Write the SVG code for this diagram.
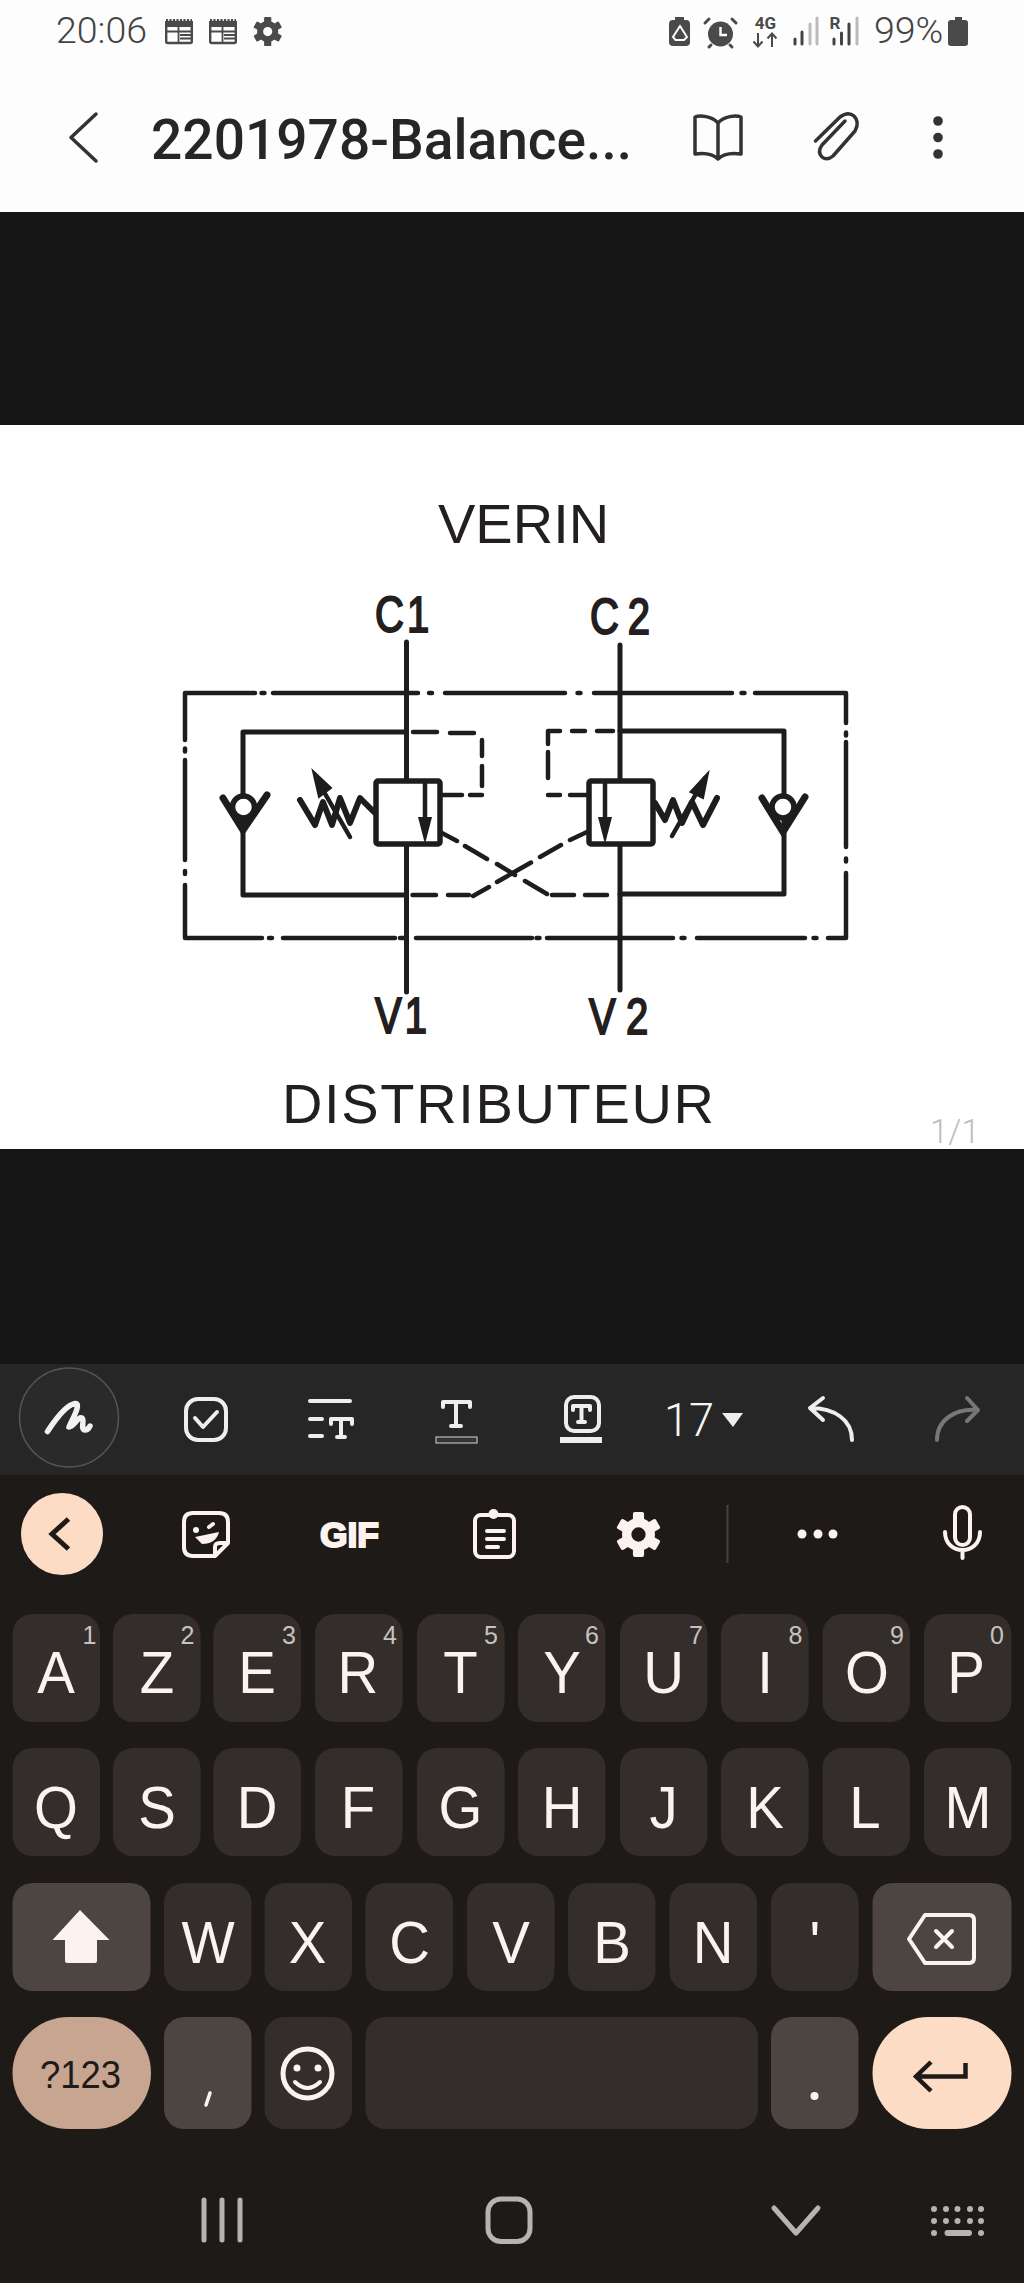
<svg xmlns="http://www.w3.org/2000/svg" width="1024" height="2283" viewBox="0 0 1024 2283">
<style>
.st{font-family:Roboto,"Liberation Sans",sans-serif;font-weight:300;font-size:37.5px;fill:#444}
.sb{font-family:Roboto,"Liberation Sans",sans-serif;font-weight:700;font-size:17px;fill:#4a4a4a}
.ic{fill:none;stroke:#333;stroke-width:3.5;stroke-linecap:round;stroke-linejoin:round}
.dark{fill:#4a4a4a}
.lb{font-family:"Liberation Sans",Arial,sans-serif;font-size:56px;fill:#231f20}
.hy{font-family:"Liberation Sans",Arial,sans-serif;font-size:50px;fill:#231f20;stroke:#231f20;stroke-width:2}
.w{fill:none;stroke:#1f1c1d;stroke-width:5;stroke-linecap:round;stroke-linejoin:round}
.sp{fill:none;stroke:#1f1c1d;stroke-width:6;stroke-linecap:round;stroke-linejoin:round}
.b{fill:none;stroke:#1f1c1d;stroke-width:4.500;stroke-linecap:round;stroke-linejoin:round}
.d{fill:none;stroke:#1f1c1d;stroke-width:4.500;stroke-linecap:round;stroke-linejoin:round}
.tb{fill:none;stroke:#eee;stroke-width:4;stroke-linecap:round;stroke-linejoin:round}
.kc{fill:none;stroke:#fdf3ee;stroke-width:4;stroke-linecap:round;stroke-linejoin:round}
.k{fill:#332e2b}
.k2{fill:#4c4542}
.l{font-family:"Liberation Sans",Arial,sans-serif;font-size:60px;fill:#fdf3ee;text-anchor:middle;transform-box:fill-box;transform-origin:center;transform:scaleX(.94)}
.n{font-family:"Liberation Sans",Arial,sans-serif;font-size:25px;fill:#c8c2be;text-anchor:middle}
.nv{fill:none;stroke:#b4b4b4;stroke-width:5;stroke-linecap:round;stroke-linejoin:round}
.kd{fill:#b4b4b4}
</style>
<defs>
<g id="gear">
<circle r="7.6" fill="none" stroke="currentColor" stroke-width="6"/>
<g fill="currentColor"><rect x="-3.6" y="-14.5" width="7.2" height="8" rx="1.2"/><rect x="-3.6" y="-14.5" width="7.2" height="8" rx="1.2" transform="rotate(60)"/><rect x="-3.6" y="-14.5" width="7.2" height="8" rx="1.2" transform="rotate(120)"/><rect x="-3.6" y="-14.5" width="7.2" height="8" rx="1.2" transform="rotate(180)"/><rect x="-3.6" y="-14.5" width="7.2" height="8" rx="1.2" transform="rotate(240)"/><rect x="-3.6" y="-14.5" width="7.2" height="8" rx="1.2" transform="rotate(300)"/></g>
</g>
<g id="cal">
<rect x="1.2" y="3" width="25.6" height="21" rx="1.5" fill="none" stroke="#4a4a4a" stroke-width="2.4"/>
<rect x="0" y="2" width="28" height="6" fill="#4a4a4a"/>
<path d="M1 1.5H27" stroke="#4a4a4a" stroke-width="3" stroke-dasharray="2 1.5"/>
<path d="M13.5 8V24M1 12.5H27M15 16H27M15 19.5H27" stroke="#4a4a4a" stroke-width="1.8" fill="none"/>
</g>
</defs>

<rect width="1024" height="2283" fill="#1e1a17"/>
<rect id="appbar" width="1024" height="212" fill="#fdfdfd"/>
<rect id="viewer-top" y="212" width="1024" height="213" fill="#161616"/>
<rect id="page" y="425" width="1024" height="724" fill="#fff"/>
<rect id="viewer-bottom" y="1149" width="1024" height="215" fill="#161616"/>
<rect id="toolbar" y="1364" width="1024" height="111" fill="#262626"/>

<g id="status-bar">
<text class="st" x="56" y="43">20:06</text>
<use href="#cal" x="165" y="19"/>
<use href="#cal" x="209" y="19"/>
<use href="#gear" transform="translate(267.7 31.6)" style="color:#4a4a4a"/>
<g id="battery-saver"><rect x="669" y="20" width="21" height="26" rx="4" class="dark"/><rect x="675" y="17" width="9" height="4" class="dark"/><path d="M680 26L687 37L684 40H675.500L673 37Z" fill="none" stroke="#fff" stroke-width="2"/></g>
<g id="alarm"><circle cx="720.500" cy="34" r="12.500" class="dark"/><path d="M709 19L705 23M732 19L736 23M711 45L709 47M730 45L732 47" stroke="#4a4a4a" stroke-width="3" stroke-linecap="round"/><path d="M720.500 27V35H727" fill="none" stroke="#fff" stroke-width="2.400"/></g>
<g id="net"><text class="sb" x="765.500" y="29" text-anchor="middle">4G</text><path d="M758 33V46M753.500 41.500L758 46.500L762.500 41.500M772 47V34M767.500 38.500L772 33.500L776.500 38.500" fill="none" stroke="#4a4a4a" stroke-width="2"/></g>
<g id="signal-1" stroke-width="3" stroke-linecap="round"><path d="M795 39V44M802 32V44" stroke="#444"/><path d="M810 24V44M817 18V44" stroke="#bbb"/></g>
<g id="signal-2" stroke-width="3" stroke-linecap="round"><text class="sb" x="835" y="29" text-anchor="middle">R</text><path d="M834 39V44M841.500 33V44M849 24V44" stroke="#444"/><path d="M857 18V44" stroke="#bbb"/></g>
<text class="st" x="874" y="43">99%</text>
<g id="battery"><rect x="948" y="20" width="20" height="26" rx="3" class="dark"/><rect x="955" y="17" width="7" height="4" class="dark"/></g>
</g>

<g id="title-bar">
<path class="ic" d="M96 114L71 137.500L96 161"/>
<text x="151" y="159" font-family="Roboto,'Liberation Sans',sans-serif" font-size="56" font-weight="500" fill="#262626" textLength="481" lengthAdjust="spacingAndGlyphs">2201978-Balance...</text>
<path class="ic" d="M718 123C712 116 700 115 695 117V154C702 153 712 153 718 159C724 153 734 153 741 154V117C736 115 724 116 718 123V158"/>
<path class="ic" d="M815.500 141L840 117Q848 111 854 116Q860 122 855 131L833 156Q827 161 822 157Q817 152 822 145L845 121"/>
<circle cx="938" cy="121" r="4.800" fill="#333"/><circle cx="938" cy="137.500" r="4.800" fill="#333"/><circle cx="938" cy="154" r="4.800" fill="#333"/>
</g>

<g id="connectors">
<path class="w" d="M406.500 642V992"/>
<path class="w" d="M620 645V990"/>
<path class="w" d="M406 732H243V830M243 830V895H406"/>
<path class="w" d="M620 731H784V830M784 830V894H620"/>
<g id="box-top"><path class="b" d="M255 693H185V740M273 693H418M445 693H565M594 693H732M755 693H846V723"/><path class="b" d="M261.500 693h3M429 693h3M577.500 693h3M741.500 693h3"/></g>
<g id="box-side"><path class="b" d="M185 760V860M185 885V938H262M846 742V847M846 873V938H828"/><path class="b" d="M185 748.500v3M185 871v3M846 732.500v3M846 858.500v3"/></g>
<g id="box-bottom"><path class="b" d="M283 938H395M400 938H405M416 938H532M547 938H673M697 938H805"/><path class="b" d="M269 938h3M536.500 938h3M681.500 938h3M813.500 938h3"/></g>
<path class="d" d="M413 732H437M450 733H474M482 740V756M482 766V786M482 795H470M462 795H442"/>
<path class="d" d="M613 731H597M585 731H572M560 731H548V744M548 752V778M548 795H560M570 795H588"/>
<path class="d" d="M412.500 895H436M448 895H469M473 896L489 887M497 882L531 862.500M540 857L561 845M570 840L587 832"/>
<path class="d" d="M440 832L457 841M465 846L487 859M497 864L515 875M525 881L547 894M552 895H574M585 895H607"/>
</g>

<g id="valve-1">
<rect x="376" y="781" width="64" height="63" rx="2" fill="#fff" stroke="#1f1c1d" stroke-width="5.500"/>
<path class="b" d="M425 781V830"/>
<path d="M425 844L418 817H432Z" fill="#1f1c1d"/>
<path class="sp" d="M300 800L315 825L323 802L332 825L340 798L350 823L360 798L375 813"/>
<path class="b" d="M350 837L316 778" stroke-width="3"/>
<path d="M313 771L331 788L319 797Z" fill="#1f1c1d" stroke="#1f1c1d" stroke-width="2"/>
</g>
<g id="valve-2">
<rect x="589" y="781" width="64" height="63" rx="2" fill="#fff" stroke="#1f1c1d" stroke-width="5.500"/>
<path class="b" d="M605 781V830"/>
<path d="M605 844L598 817H612Z" fill="#1f1c1d"/>
<path class="sp" d="M655 803L665 820L673 800L682 823L692 802L703 825L717 798"/>
<path class="b" d="M672 836L705 778" stroke-width="3"/>
<path d="M708 773L690.500 792L703 798Z" fill="#1f1c1d" stroke="#1f1c1d" stroke-width="2"/>
</g>
<g id="check-1">
<path d="M223 798L243 830L267 795" fill="none" stroke="#1f1c1d" stroke-width="7" stroke-linecap="round" stroke-linejoin="miter"/>
<circle cx="243.500" cy="807" r="11" fill="#fff" stroke="#1f1c1d" stroke-width="5.500"/>
</g>
<g id="check-2">
<path d="M762 798L783 832L805 797" fill="none" stroke="#1f1c1d" stroke-width="7" stroke-linecap="round" stroke-linejoin="miter"/>
<circle cx="783" cy="807" r="11" fill="#fff" stroke="#1f1c1d" stroke-width="5.500"/>
</g>
<g id="labels">
<text class="lb" x="438" y="543">VERIN</text>
<text class="hy" transform="translate(375 632) scale(.8 1)" letter-spacing="4">C1</text>
<text class="hy" transform="translate(590 634) scale(.8 1)" letter-spacing="11">C2</text>
<text class="hy" transform="translate(375 1033) scale(.8 1)" letter-spacing="4">V1</text>
<text class="hy" transform="translate(589 1034) scale(.8 1)" letter-spacing="13">V2</text>
<text class="lb" x="282" y="1123" letter-spacing="1.650">DISTRIBUTEUR</text>
<text x="930" y="1143" font-family="Roboto,'Liberation Sans',sans-serif" font-weight="300" font-size="33" fill="#bdbdbd">1/1</text>
</g>

<g id="format-toolbar">
<circle cx="69" cy="1417.500" r="49.500" fill="#2a2a2a" stroke="#555" stroke-width="1.500"/>
<path d="M47.500 1431.500C55 1420 66 1405 75 1403.500C82 1403 72 1420 69 1427C74 1427 78 1416 82 1418C85 1420 80 1430 85 1430C87 1430 89 1428 90 1426" fill="none" stroke="#f2f2f2" stroke-width="5.500" stroke-linecap="round" stroke-linejoin="round"/>
<rect class="tb" x="186" y="1399" width="40" height="41" rx="12"/>
<path class="tb" d="M195 1418L203 1427L217 1412" stroke-width="3.500"/>
<path class="tb" d="M310 1401H350M310 1419H322M310 1436H322M331 1424V1419H352V1424M341 1419V1437M337 1437H345"/>
<path class="tb" d="M443 1407V1402H470V1407M456 1402V1426M451 1426H461"/>
<rect x="436" y="1437" width="41" height="6" fill="#333" stroke="#bbb" stroke-width="1.200"/>
<rect class="tb" x="566" y="1397" width="33" height="34" rx="8" stroke-width="3.500"/>
<path class="tb" d="M573 1410V1406H590V1410M581.500 1406V1422M578 1422H585" stroke-width="3"/>
<rect x="560" y="1437" width="42" height="6" fill="#eee"/>
<text x="664" y="1436" font-family="Roboto,'Liberation Sans',sans-serif" font-weight="300" font-size="46" fill="#f6f6f6" textLength="50" lengthAdjust="spacingAndGlyphs">17</text>
<path d="M722 1413H743L733 1427Z" fill="#eee"/>
<path class="tb" d="M823 1398L810 1408L823 1420M810 1408C835 1408 852 1420 852 1440"/>
<path class="tb" d="M967 1398L978 1410L967 1421M978 1410C955 1408 937 1420 937 1440" style="stroke:#777"/>
</g>

<g id="suggestion-bar">
<circle cx="62" cy="1534" r="41" fill="#fddcc6"/>
<path d="M68.500 1519L52 1534L68.500 1549" fill="none" stroke="#1e1a17" stroke-width="5"/>
<g id="sticker"><path class="kc" d="M193 1513H219Q228 1513 228 1522V1543L215 1556H193Q184 1556 184 1547V1522Q184 1513 193 1513ZM215 1556V1547Q215 1543 220 1543H228"/><circle cx="196" cy="1530" r="3" fill="#fdf3ee"/><path class="kc" d="M209 1527L213 1524" stroke-width="3"/><path d="M195 1537L219 1532Q216 1544 202 1544Z" fill="#fdf3ee"/></g>
<text x="320" y="1547" font-family="'Liberation Sans',Arial,sans-serif" font-weight="700" font-size="35" fill="#fdf3ee" stroke="#fdf3ee" stroke-width="2" textLength="59" lengthAdjust="spacingAndGlyphs">GIF</text>
<g id="clipboard"><rect class="kc" x="475" y="1515" width="39" height="42" rx="6" stroke-width="3.500"/><circle cx="493.500" cy="1514" r="5" fill="#fdf3ee"/><path class="kc" d="M487 1531H504M487 1539H504M487 1547H498" stroke-width="3.500" stroke-linecap="butt"/></g>
<use href="#gear" transform="translate(638.500 1534.500) scale(1.550)" style="color:#fdf3ee"/>
<path d="M727.500 1505V1563" stroke="#48423f" stroke-width="2"/>
<circle cx="802" cy="1534" r="4.500" fill="#fdf3ee"/><circle cx="818" cy="1534" r="4.500" fill="#fdf3ee"/><circle cx="833" cy="1534" r="4.500" fill="#fdf3ee"/>
<g id="mic"><rect class="kc" x="955" y="1507" width="15" height="38" rx="7.500"/><path class="kc" d="M945 1532C945 1556 980 1556 980 1532M962.500 1550V1558"/></g>
</g>

<g id="keys-row-1">
<rect class="k" x="12.500" y="1614" width="87.500" height="108" rx="20"/><rect class="k" x="113" y="1614" width="87.500" height="108" rx="20"/><rect class="k" x="213.500" y="1614" width="87.500" height="108" rx="20"/><rect class="k" x="315" y="1614" width="87.500" height="108" rx="20"/><rect class="k" x="417" y="1614" width="87.500" height="108" rx="20"/><rect class="k" x="518" y="1614" width="87.500" height="108" rx="20"/><rect class="k" x="620" y="1614" width="87.500" height="108" rx="20"/><rect class="k" x="721" y="1614" width="87.500" height="108" rx="20"/><rect class="k" x="822.500" y="1614" width="87.500" height="108" rx="20"/><rect class="k" x="924" y="1614" width="87.500" height="108" rx="20"/>
<text class="l" x="56" y="1693">A</text><text class="l" x="157" y="1693">Z</text><text class="l" x="257" y="1693">E</text><text class="l" x="358" y="1693">R</text><text class="l" x="460.500" y="1693">T</text><text class="l" x="562" y="1693">Y</text><text class="l" x="663.500" y="1693">U</text><text class="l" x="765" y="1693">I</text><text class="l" x="867" y="1693">O</text><text class="l" x="966" y="1693">P</text>
<text class="n" x="89.500" y="1644">1</text><text class="n" x="187.500" y="1644">2</text><text class="n" x="289" y="1644">3</text><text class="n" x="390" y="1644">4</text><text class="n" x="491" y="1644">5</text><text class="n" x="592" y="1644">6</text><text class="n" x="696" y="1644">7</text><text class="n" x="795.500" y="1644">8</text><text class="n" x="897" y="1644">9</text><text class="n" x="997" y="1644">0</text>
</g>
<g id="keys-row-2">
<rect class="k" x="12.500" y="1748" width="87.500" height="108" rx="20"/><rect class="k" x="113" y="1748" width="87.500" height="108" rx="20"/><rect class="k" x="213.500" y="1748" width="87.500" height="108" rx="20"/><rect class="k" x="315" y="1748" width="87.500" height="108" rx="20"/><rect class="k" x="417" y="1748" width="87.500" height="108" rx="20"/><rect class="k" x="518" y="1748" width="87.500" height="108" rx="20"/><rect class="k" x="620" y="1748" width="87.500" height="108" rx="20"/><rect class="k" x="721" y="1748" width="87.500" height="108" rx="20"/><rect class="k" x="822.500" y="1748" width="87.500" height="108" rx="20"/><rect class="k" x="924" y="1748" width="87.500" height="108" rx="20"/>
<text class="l" x="56" y="1828">Q</text><text class="l" x="157" y="1828">S</text><text class="l" x="257" y="1828">D</text><text class="l" x="358" y="1828">F</text><text class="l" x="460.500" y="1828">G</text><text class="l" x="562" y="1828">H</text><text class="l" x="663.500" y="1828">J</text><text class="l" x="765" y="1828">K</text><text class="l" x="865" y="1828">L</text><text class="l" x="968" y="1828">M</text>
</g>
<g id="keys-row-3">
<rect class="k2" x="12.500" y="1883" width="138" height="108" rx="20"/><rect class="k" x="164" y="1883" width="87.500" height="108" rx="20"/><rect class="k" x="264.500" y="1883" width="87.500" height="108" rx="20"/><rect class="k" x="365.500" y="1883" width="87.500" height="108" rx="20"/><rect class="k" x="467" y="1883" width="87.500" height="108" rx="20"/><rect class="k" x="568" y="1883" width="87.500" height="108" rx="20"/><rect class="k" x="669.500" y="1883" width="87.500" height="108" rx="20"/><rect class="k" x="771" y="1883" width="87.500" height="108" rx="20"/><rect class="k2" x="872.500" y="1883" width="139" height="108" rx="20"/>
<path d="M80 1910L109.500 1940H97V1961Q97 1963 95 1963H67Q65 1963 65 1961V1940H52.500Z" fill="#fdf3ee"/>
<text class="l" x="208" y="1963">W</text><text class="l" x="307.500" y="1963">X</text><text class="l" x="409.500" y="1963">C</text><text class="l" x="511" y="1963">V</text><text class="l" x="612" y="1963">B</text><text class="l" x="713" y="1963">N</text><text class="l" x="815" y="1963">'</text>
<g id="backspace"><path class="kc" d="M925 1915H969Q974 1915 974 1920V1958Q974 1963 969 1963H925L909 1939Z"/><path class="kc" d="M936 1931L952 1947M952 1931L936 1947"/></g>
</g>
<g id="keys-row-4">
<rect x="12.500" y="2017" width="138.500" height="112" rx="56" fill="#c8a590"/>
<text x="40" y="2088" font-family="'Liberation Sans',Arial,sans-serif" font-size="39" fill="#1e1a17" textLength="81" lengthAdjust="spacingAndGlyphs">?123</text>
<rect class="k2" x="164" y="2017" width="87.500" height="112" rx="20"/>
<path d="M210 2093L206 2105" stroke="#fdf3ee" stroke-width="3.500" stroke-linecap="round"/>
<rect class="k" x="264.500" y="2017" width="87.500" height="112" rx="20"/>
<g id="emoji"><circle cx="307.500" cy="2073.500" r="24.500" fill="none" stroke="#fdf3ee" stroke-width="5"/><circle cx="297" cy="2068" r="3.500" fill="#fdf3ee"/><circle cx="318" cy="2068" r="3.500" fill="#fdf3ee"/><path class="kc" d="M295 2082Q307.500 2094 320 2082" stroke-width="3.500"/></g>
<rect class="k" x="365.500" y="2017" width="392.500" height="112" rx="20"/>
<rect class="k2" x="771" y="2017" width="87.500" height="112" rx="20"/>
<circle cx="814.500" cy="2096" r="4" fill="#fdf3ee"/>
<rect x="872.500" y="2017" width="139" height="112" rx="56" fill="#fddcc6"/>
<path d="M931 2062L916 2076.500L931 2091M916 2076.500H965.500V2063" fill="none" stroke="#1e1a17" stroke-width="4.500"/>
</g>
<g id="nav-bar">
<path class="nv" d="M204 2200V2240M222 2200V2240M240 2200V2240" stroke-width="4.500"/>
<rect class="nv" x="488" y="2199" width="42" height="42.500" rx="13"/>
<path class="nv" d="M774 2208L796 2233L818 2208"/>
<circle class="kd" cx="934" cy="2209" r="3"/><circle class="kd" cx="946" cy="2209" r="3"/><circle class="kd" cx="957.500" cy="2209" r="3"/><circle class="kd" cx="970" cy="2209" r="3"/><circle class="kd" cx="981" cy="2209" r="3"/>
<circle class="kd" cx="934" cy="2221" r="3"/><circle class="kd" cx="946" cy="2221" r="3"/><circle class="kd" cx="957.500" cy="2221" r="3"/><circle class="kd" cx="970" cy="2221" r="3"/><circle class="kd" cx="981" cy="2221" r="3"/>
<circle class="kd" cx="934" cy="2233" r="3"/><rect class="kd" x="944.500" y="2230" width="27.500" height="6" rx="3"/><circle class="kd" cx="981" cy="2233" r="3"/>
</g>
</svg>
